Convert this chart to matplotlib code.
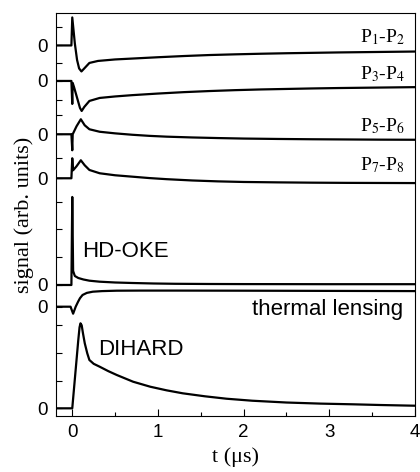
import matplotlib
matplotlib.use("Agg")
import matplotlib.pyplot as plt

plt.rcParams["font.family"] = ["Liberation Sans", "DejaVu Sans"]
plt.rcParams["mathtext.fontset"] = "stix"

# vertical offsets of each trace (arb. units, baseline "0" of each trace)
zeros = [370.5, 335.0, 281.7, 237.7, 131.0, 109.3, 7.7]
names = ["P$_1$-P$_2$", "P$_3$-P$_4$", "P$_5$-P$_6$", "P$_7$-P$_8$",
         "HD-OKE", "thermal lensing", "DIHARD"]

# traces (t in us, signal relative to own zero)
t_p12 = [-0.19, -0.01, 0.0, 0.03, 0.056, 0.08, 0.107, 0.14, 0.2, 0.3, 0.5, 0.75, 1.0,
         1.3, 1.6, 1.9, 2.2, 2.5, 2.8, 3.1, 3.4, 3.7, 4.0]
s_p12 = [0, 0, 28, 2, -14.5, -23, -26, -23, -17.5, -15.5, -14, -12.9, -11.8,
         -10.6, -9.6, -8.9, -8.3, -7.8, -7.4, -7.0, -6.7, -6.4, -6.1]

t_p34 = [-0.19, -0.01, 0.0, 0.005, 0.02, 0.06, 0.09, 0.11, 0.14, 0.2, 0.32, 0.5, 0.7, 1.0,
         1.3, 1.6, 1.9, 2.2, 2.5, 2.8, 3.1, 3.4, 3.7, 4.0]
s_p34 = [0, 0, -23, -2, -6, -18, -27, -30, -26, -20, -17, -15.5, -14.2, -12.6,
         -11.2, -10.1, -9.2, -8.5, -8.0, -7.5, -7.1, -6.8, -6.5, -6.2]

t_p56 = [-0.19, -0.01, 0.0, 0.005, 0.05, 0.1, 0.145, 0.2, 0.32, 0.5, 0.7, 0.9, 1.1,
         1.4, 1.7, 2.0, 2.4, 2.8, 3.2, 3.6, 4.0]
s_p56 = [0, 0, -16, 0, 8, 15, 9, 5, 2.5, 0.9, -0.5, -1.6, -2.4,
         -3.2, -3.8, -4.3, -4.7, -5.0, -5.2, -5.4, -5.5]

t_p78 = [-0.19, -0.01, 0.0, 0.01, 0.05, 0.1, 0.145, 0.2, 0.32, 0.5, 0.7, 0.9, 1.1,
         1.4, 1.7, 2.0, 2.4, 2.8, 3.2, 3.6, 4.0]
s_p78 = [0, 0, 20, 8, 12, 18, 13, 8.3, 5, 3, 1.6, 0.2, -0.9,
         -2.2, -3.1, -3.7, -4.1, -4.4, -4.6, -4.7, -4.8]

t_oke = [-0.19, -0.01, 0.0, 0.01, 0.03, 0.07, 0.13, 0.2, 0.32, 0.5, 0.7, 0.95, 1.2, 1.6, 2.0, 3.0, 4.0]
s_oke = [0, 0, 88, 14, 9, 7, 5.5, 4.3, 3.3, 2.5, 2.0, 1.5, 1.2, 1.0, 0.9, 0.8, 0.8]

t_tl = [-0.19, -0.02, 0.01, 0.04, 0.068, 0.09, 0.12, 0.17, 0.24, 0.35, 0.52, 0.8, 1.2, 2.0, 3.0, 4.0]
s_tl = [0, 0, -7, 0, 5, 8.5, 11.7, 13.8, 15, 15.6, 16, 16.1, 16.1, 16, 15.8, 15.6]

t_dh = [-0.19, 0.0, 0.07, 0.085, 0.096, 0.11, 0.125, 0.146, 0.175, 0.2, 0.25, 0.32, 0.42, 0.52,
        0.71, 0.91, 1.1, 1.29, 1.55, 1.8, 2.1, 2.5, 2.9, 3.28, 3.6, 4.0]
s_dh = [0, 0, 68, 81, 85, 83, 75, 65, 55, 48.3, 44.5, 41.6, 37.2, 33.3,
        26.6, 21.6, 18.0, 15.0, 12.0, 9.6, 7.6, 5.8, 4.7, 4.0, 3.3, 2.6]

traces = [(t_p12, s_p12), (t_p34, s_p34), (t_p56, s_p56), (t_p78, s_p78),
          (t_oke, s_oke), (t_tl, s_tl), (t_dh, s_dh)]

# extra unlabeled tick marks on the signal axis
side_ticks = [388.7, 352.7, 316.0, 301.0, 257.7, 214.3, 187.0, 159.3, 91.0, 62.7, 35.0]

fig = plt.figure(figsize=(4.2, 4.72), dpi=100)
ax = fig.add_axes([0.1333, 0.1186, 0.8547, 0.854])

for (t, s), z in zip(traces, zeros):
    ax.plot(t, [z + v for v in s], color="black", lw=1.6)

ax.set_xlim(-0.19, 4.0)
ax.set_ylim(0, 403)

ticks = sorted(zeros + side_ticks)
ax.set_yticks(ticks)
ax.set_yticklabels(["0" if v in zeros else "" for v in ticks], fontsize=13.5)
ax.set_xticks([0, 1, 2, 3, 4])
ax.set_xticks([0.5, 1.5, 2.5, 3.5], minor=True)
ax.tick_params(axis="x", direction="in", length=5, width=0.8, labelsize=13.5, pad=6)
ax.tick_params(axis="x", which="minor", direction="in", length=3, width=0.8)
ax.tick_params(axis="y", direction="in", length=4, width=0.8, pad=6)
for sp in ax.spines.values():
    sp.set_linewidth(0.8)

serif = ["Liberation Serif", "DejaVu Serif"]
ax.set_xlabel("t (\u03bcs)", family=serif, fontsize=16, labelpad=4)
ax.set_ylabel("signal (arb. units)", family=serif, fontsize=16, labelpad=2)

label_y = [373.3, 336.7, 285.0, 246.0]
for name, y in zip(names[:4], label_y):
    ax.text(3.88, y, name, family=serif, fontsize=14, ha="right", va="baseline")

ax.text(0.12, 159, names[4], fontsize=16, ha="left", va="baseline")
ax.text(3.86, 101, names[5], fontsize=16, ha="right", va="baseline")
ax.text(0.30, 61, names[6], fontsize=16, ha="left", va="baseline")

fig.savefig("out.png", dpi=100)
